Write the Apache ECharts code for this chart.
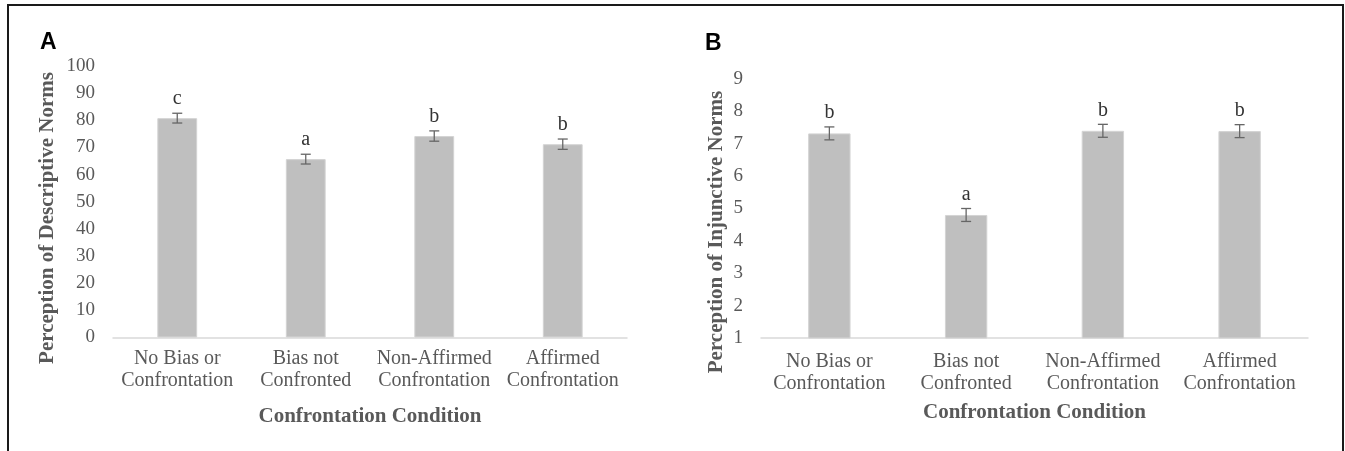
<!DOCTYPE html>
<html>
<head>
<meta charset="utf-8">
<script src="https://cdn.jsdelivr.net/npm/echarts@6/dist/echarts.min.js"></script>
<style>
  html, body { margin: 0; padding: 0; background: #fff; }
  #chart { width: 1345px; height: 451px; }
</style>
</head>
<body>
<div id="chart"></div>
<script>
// categories shared by both panels
let categories = ['No Bias or\nConfrontation', 'Bias not\nConfronted', 'Non-Affirmed\nConfrontation', 'Affirmed\nConfrontation']

// panel A: descriptive norms
let descMeans = [80.8, 65.7, 74.2, 71.2]
let descSE = [1.8, 1.8, 1.9, 1.9]
let descLetters = ['c', 'a', 'b', 'b']

// panel B: injunctive norms
let injMeans = [7.32, 4.80, 7.40, 7.39]
let injSE = [0.2, 0.2, 0.2, 0.2]
let injLetters = ['b', 'a', 'b', 'b']

let serif = '"Liberation Serif", "Times New Roman", serif'
let sans = '"Liberation Sans", Arial, sans-serif'
let grey = '#595959'

function errorData(means, se) {
  return means.map((m, i) => [i, m - se[i], m + se[i]])
}

function errorRenderer(letters) {
  return function (params, api) {
    let i = api.value(0)
    let lo = api.coord([i, api.value(1)])
    let hi = api.coord([i, api.value(2)])
    let half = 5
    let st = { stroke: '#666', lineWidth: 1.3 }
    return {
      type: 'group',
      children: [
        { type: 'line', shape: { x1: lo[0], y1: lo[1], x2: hi[0], y2: hi[1] }, style: st },
        { type: 'line', shape: { x1: lo[0] - half, y1: lo[1], x2: lo[0] + half, y2: lo[1] }, style: st },
        { type: 'line', shape: { x1: hi[0] - half, y1: hi[1], x2: hi[0] + half, y2: hi[1] }, style: st },
        {
          type: 'text', x: hi[0], y: hi[1] - 4,
          style: { text: letters[params.dataIndex], align: 'center', verticalAlign: 'bottom', font: '20px ' + serif, fill: '#333' }
        }
      ]
    }
  }
}

function xAxisFor(gridIndex, margin) {
  return {
    type: 'category', gridIndex: gridIndex, data: categories,
    axisLine: { lineStyle: { color: '#d9d9d9', width: 1.5 } },
    axisTick: { show: false },
    axisLabel: { color: grey, fontFamily: serif, fontSize: 20, lineHeight: 22, margin: margin, interval: 0 },
    name: 'Confrontation Condition', nameLocation: 'middle', nameGap: margin === 10 ? 69 : 64,
    nameTextStyle: { color: grey, fontFamily: serif, fontSize: 21, fontWeight: 'bold' }
  }
}

function yAxisFor(gridIndex, min, max, interval) {
  return {
    type: 'value', gridIndex: gridIndex, min: min, max: max, interval: interval,
    axisLine: { show: false }, axisTick: { show: false }, splitLine: { show: false },
    axisLabel: { color: grey, fontFamily: serif, fontSize: 19, margin: 18 }
  }
}

let chart = echarts.init(document.getElementById('chart'))
chart.setOption({
  animation: false,
  graphic: [
    { type: 'rect', shape: { x: 8, y: 5, width: 1335, height: 500 }, style: { fill: 'none', stroke: '#1a1a1a', lineWidth: 2 } },
    { type: 'text', x: 40, y: 31, style: { text: 'A', font: 'bold 23px ' + sans, fill: '#000' } },
    { type: 'text', x: 705, y: 32, style: { text: 'B', font: 'bold 23px ' + sans, fill: '#000' } },
    { type: 'text', x: 48, y: 218, rotation: Math.PI / 2,
      style: { text: 'Perception of Descriptive Norms', align: 'center', verticalAlign: 'middle', font: 'bold 21px ' + serif, fill: grey } },
    { type: 'text', x: 717, y: 232, rotation: Math.PI / 2,
      style: { text: 'Perception of Injunctive Norms', align: 'center', verticalAlign: 'middle', font: 'bold 21px ' + serif, fill: grey } }
  ],
  grid: [
    { left: 113, right: 718, top: 66, bottom: 113.5 },
    { left: 761, right: 37, top: 79, bottom: 113 }
  ],
  xAxis: [xAxisFor(0, 10), xAxisFor(1, 13)],
  yAxis: [yAxisFor(0, 0, 100, 10), yAxisFor(1, 1, 9, 1)],
  series: [
    {
      type: 'bar', xAxisIndex: 0, yAxisIndex: 0, data: descMeans, barWidth: '31%',
      itemStyle: { color: '#bfbfbf', borderColor: '#d4d4d4', borderWidth: 1 }
    },
    {
      type: 'custom', xAxisIndex: 0, yAxisIndex: 0, data: errorData(descMeans, descSE),
      renderItem: errorRenderer(descLetters), z: 5
    },
    {
      type: 'bar', xAxisIndex: 1, yAxisIndex: 1, data: injMeans, barWidth: '31%',
      itemStyle: { color: '#bfbfbf', borderColor: '#d4d4d4', borderWidth: 1 }
    },
    {
      type: 'custom', xAxisIndex: 1, yAxisIndex: 1, data: errorData(injMeans, injSE),
      renderItem: errorRenderer(injLetters), z: 5
    }
  ]
})

window.addEventListener('resize', () => chart.resize())
</script>
</body>
</html>
